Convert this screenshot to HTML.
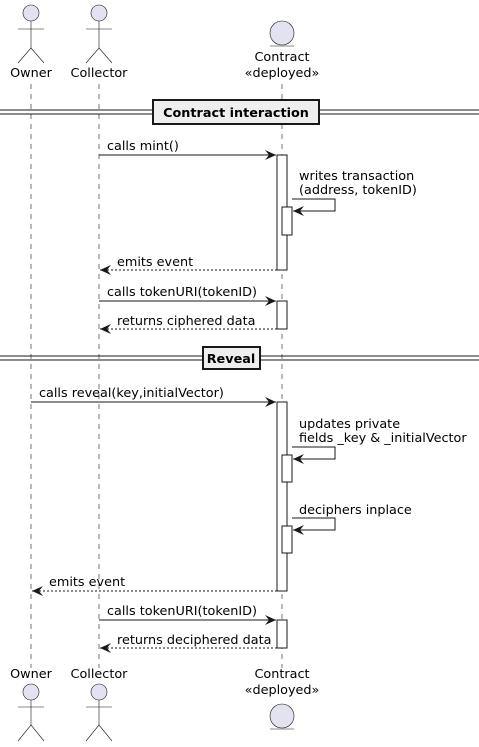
<!DOCTYPE html>
<html><head><meta charset="utf-8"><style>
html,body{margin:0;padding:0;background:#fff;}
svg{display:block;}
text{font-family:"DejaVu Sans","Liberation Sans",sans-serif;font-size:12.8px;fill:#000;}
</style></head><body>
<svg width="479" height="747" viewBox="0 0 479 747">
<defs>
<marker id="a" markerWidth="12" markerHeight="10" refX="11" refY="5" orient="auto" markerUnits="userSpaceOnUse">
<path d="M0,0 L11,5 L0,10 L4,5 Z" fill="#181818"/></marker>
</defs>
<g stroke="#181818" stroke-width="0.6" stroke-dasharray="5,5">
<line x1="31" y1="84" x2="31" y2="668"/>
<line x1="99" y1="84" x2="99" y2="668"/>
<line x1="282" y1="84" x2="282" y2="668"/>
</g>
<g fill="#E2E2F0" stroke="#181818" stroke-width="0.6">
<circle cx="31" cy="13" r="8"/><line x1="31" y1="21" x2="31" y2="48"/><line x1="18" y1="29" x2="44" y2="29"/><polyline fill="none" points="18,63 31,48 44,63"/>
<circle cx="99" cy="13" r="8"/><line x1="99" y1="21" x2="99" y2="48"/><line x1="86" y1="29" x2="112" y2="29"/><polyline fill="none" points="86,63 99,48 112,63"/>
<circle cx="282" cy="33" r="12"/><line x1="270" y1="46" x2="294" y2="46"/>
<circle cx="31" cy="692" r="8"/><line x1="31" y1="700" x2="31" y2="725"/><line x1="18" y1="707" x2="44" y2="707"/><polyline fill="none" points="18,741 31,725 44,741"/>
<circle cx="99" cy="692" r="8"/><line x1="99" y1="700" x2="99" y2="725"/><line x1="86" y1="707" x2="112" y2="707"/><polyline fill="none" points="86,741 99,725 112,741"/>
<circle cx="282" cy="716" r="12"/><line x1="270" y1="729" x2="294" y2="729"/>
</g>
<text x="31" y="77" text-anchor="middle">Owner</text>
<text x="99" y="77" text-anchor="middle">Collector</text>
<text x="282" y="61" text-anchor="middle">Contract</text>
<text x="282" y="77" text-anchor="middle">«deployed»</text>
<text x="31" y="678" text-anchor="middle">Owner</text>
<text x="99" y="678" text-anchor="middle">Collector</text>
<text x="282" y="678" text-anchor="middle">Contract</text>
<text x="282" y="694" text-anchor="middle">«deployed»</text>
<g stroke="#181818" stroke-width="1">
<line x1="0" y1="110" x2="479" y2="110"/><line x1="0" y1="114" x2="479" y2="114"/>
<line x1="0" y1="356" x2="479" y2="356"/><line x1="0" y1="360" x2="479" y2="360"/>
</g>
<rect x="153" y="100" width="166" height="24" fill="#EEEEEE" stroke="#181818" stroke-width="2"/>
<text x="236" y="117" text-anchor="middle" font-weight="bold">Contract interaction</text>
<rect x="203" y="347" width="57" height="22" fill="#EEEEEE" stroke="#181818" stroke-width="2"/>
<text x="231" y="363" text-anchor="middle" font-weight="bold">Reveal</text>
<g fill="#fff" stroke="#181818" stroke-width="1">
<rect x="277" y="155" width="10" height="115"/>
<rect x="282" y="207" width="10" height="28"/>
<rect x="277" y="301" width="10" height="28"/>
<rect x="277" y="402" width="10" height="189"/>
<rect x="282" y="455" width="10" height="27"/>
<rect x="282" y="526" width="10" height="27"/>
<rect x="277" y="620" width="10" height="28"/>
</g>
<g stroke="#181818" stroke-width="1" fill="none">
<line x1="99" y1="155" x2="276" y2="155" marker-end="url(#a)"/>
<polyline points="292,199 335,199 335,211 293,211" marker-end="url(#a)"/>
<line x1="277" y1="270" x2="100" y2="270" stroke-dasharray="2,2" marker-end="url(#a)"/>
<line x1="99" y1="301" x2="276" y2="301" marker-end="url(#a)"/>
<line x1="277" y1="329" x2="100" y2="329" stroke-dasharray="2,2" marker-end="url(#a)"/>
<line x1="31" y1="402" x2="276" y2="402" marker-end="url(#a)"/>
<polyline points="292,447 335,447 335,459 293,459" marker-end="url(#a)"/>
<polyline points="292,518 335,518 335,530 293,530" marker-end="url(#a)"/>
<line x1="277" y1="591" x2="32" y2="591" stroke-dasharray="2,2" marker-end="url(#a)"/>
<line x1="99" y1="620" x2="276" y2="620" marker-end="url(#a)"/>
<line x1="277" y1="648" x2="100" y2="648" stroke-dasharray="2,2" marker-end="url(#a)"/>
</g>
<text x="107" y="150">calls mint()</text>
<text x="299" y="180">writes transaction</text>
<text x="299" y="194">(address, tokenID)</text>
<text x="117" y="266">emits event</text>
<text x="107" y="296">calls tokenURI(tokenID)</text>
<text x="117" y="325">returns ciphered data</text>
<text x="39" y="397">calls reveal(key,initialVector)</text>
<text x="299" y="428">updates private</text>
<text x="299" y="442">fields _key &amp; _initialVector</text>
<text x="299" y="514">deciphers inplace</text>
<text x="49" y="586">emits event</text>
<text x="107" y="615">calls tokenURI(tokenID)</text>
<text x="117" y="644">returns deciphered data</text>
</svg>
</body></html>
